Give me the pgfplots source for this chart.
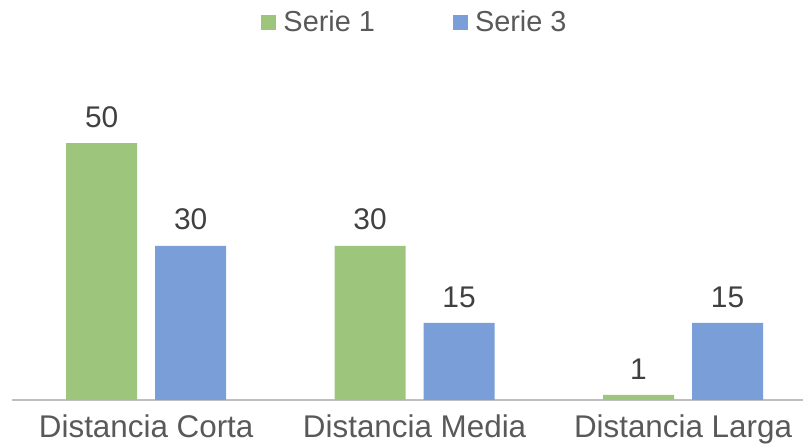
\documentclass[border=0pt]{standalone}
\usepackage{fontspec}
\setmainfont{Liberation Sans}
\usepackage{pgfplots}
\pgfplotsset{compat=1.18}
\definecolor{sgreen}{RGB}{157,198,124}
\definecolor{sblue}{RGB}{122,158,216}
\definecolor{txtgray}{RGB}{89,89,89}
\definecolor{lblgray}{RGB}{64,64,64}
\definecolor{axgray}{RGB}{191,191,191}
\begin{document}
\begin{tikzpicture}
\useasboundingbox (-12bp,-47bp) rectangle (792bp,400bp);
\begin{axis}[
  scale only axis,
  width=791bp, height=308.4bp,
  at={(0,0)}, anchor=south west,
  ybar, bar width=71bp,
  xmin=-0.5, xmax=2.447,
  ymin=0, ymax=60,
  axis y line=none,
  axis x line*=bottom,
  x axis line style={-, draw=axgray, line width=2bp},
  xtick={0,1,2},
  xticklabels={Distancia Corta, Distancia Media, Distancia Larga},
  xtick style={draw=none},
  xticklabel style={font=\fontsize{31.5}{31.5}\selectfont, text=txtgray, yshift=-7bp},
  /pgf/number format/assume math mode=true,
  nodes near coords,
  nodes near coords style={font=\fontsize{30}{30}\selectfont, text=lblgray, anchor=south, yshift=12bp},
  legend style={draw=none, fill=none, at={(0.5095,1.2257)}, anchor=center,
    legend columns=-1, font=\fontsize{29}{29}\selectfont, text=txtgray,
    /tikz/every even column/.append style={column sep=76bp}},
  legend image code/.code={\fill[#1] (0bp,-7.5bp) rectangle (15bp,7.5bp); \path (20bp,0bp);},
]
\addplot[fill=sgreen, draw=none, bar shift=-44.5bp] coordinates {(0,50) (1,30) (2,1)};
\addplot[fill=sblue, draw=none, bar shift=44.5bp] coordinates {(0,30) (1,15) (2,15)};
\legend{Serie 1, Serie 3}
\end{axis}
\end{tikzpicture}
\end{document}
